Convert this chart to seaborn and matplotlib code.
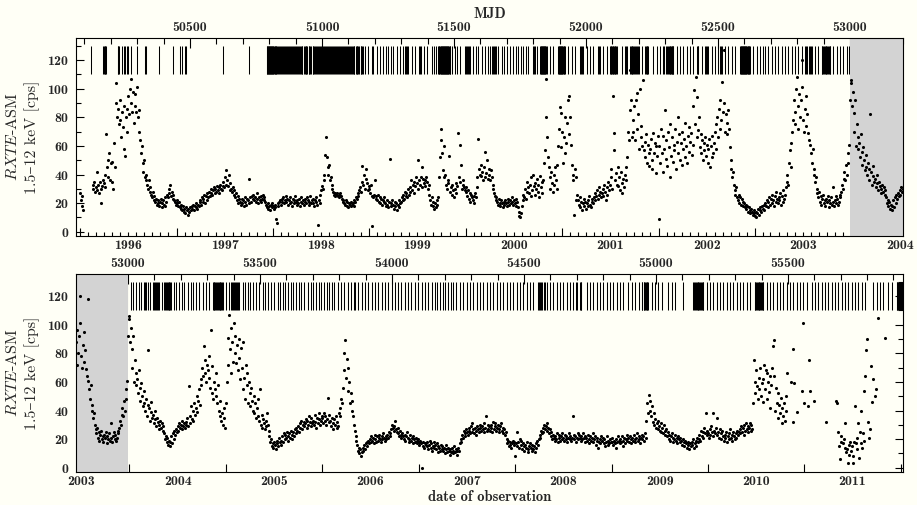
import numpy as np
import pandas as pd
import matplotlib
matplotlib.use("Agg")
import matplotlib.pyplot as plt
from matplotlib.ticker import FixedLocator, NullFormatter, NullLocator, FuncFormatter, MultipleLocator
import seaborn as sns

n = None
# RXTE-ASM daily rates (cps), sampled every 3 days from 1 Jan of each year
rate_1996 = [27,22,18,25,15,n,n,n,n,n, n,n,n,n,n,n,33,30,35,28, 31,42,29,33,27,35,20,30,32,36,
 34,40,31,68,45,50,38,55,36,48, 35,49,30,62,45,90,104,80,86,75, 92,78,66,84,73,58,88,53,80,70,
 86,95,82,100,107,90,84,98,76,88, 96,84,101,80,70,85,64,55,60,48, 42,50,38,36,40,33,30,36,28,31,
 26,24,28,22,25,21,23,19,22,20, 18,21,23,17,20,22,19,24,18,21, 26,24,30,27,33,25,28,23,26,22, 21,19]
rate_1997 = [22,20,18,21,17,19,16,15,18,14, 16,13,17,15,12,16,14,17,15,18, 16,19,15,18,17,20,16,19,18,21,
 22,19,24,21,23,26,20,25,22,27, 24,28,25,27,30,26,29,31,27,30, 28,32,29,31,27,33,30,29,32,35,
 31,38,33,43,36,32,40,29,34,30, 28,31,26,29,24,27,22,25,20,23, 21,19,23,20,22,18,24,21,19,23,
 22,20,37,24,21,25,23,26,22,24, 21,23,27,20,24,22,25,21,23,26, 22,24,21,19,17,20,16,18,15,19, 17,20]
rate_1998 = [18,16,19,17,9,6,20,18,21,22, 19,23,21,24,20,22,25,21,23,19, 22,20,24,21,18,23,20,22,25,21,
 19,22,20,23,18,21,24,20,22,19, 21,23,20,24,22,19,21,25,20,22, 23,20,18,22,21,24,19,5,22,20,
 26,29,32,30,36,40,54,66,52,45, 40,47,36,38,33,30,28,26,27,25, 26,27,25,26,24,27,25,23,22,21,
 20,19,22,18,21,17,20,19,18,21, 19,20,18,22,21,24,23,27,25,29, 31,28,35,46,33,40,30,37,44,34, 29,32]
rate_1999 = [30,27,33,25,4,24,26,36,23,25, 22,26,21,24,20,23,19,22,24,21, 20,18,22,19,17,21,51,20,18,22,
 19,16,21,18,20,15,19,22,17,20, 21,24,22,26,23,28,25,27,24,30, 26,31,28,36,29,33,27,35,32,38,
 34,50,30,36,33,38,45,31,37,34, 36,32,38,35,30,33,26,22,19,24, 18,21,16,20,17,22,19,24,38,52,
 64,72,55,43,60,38,40,33,30,36, 34,53,28,31,26,33,29,24,30,27, 34,32,69,38,61,35,47,30,36,33, 31,29]
rate_2000 = [28,31,25,29,23,27,21,26,24,22, 25,20,27,24,31,38,65,44,40,47, 39,42,36,45,38,56,41,50,37,44,
 40,36,43,38,33,30,27,25,22,24, 21,19,23,20,18,22,20,17,21,19, 22,20,18,23,21,19,22,20,24,21,
 19,22,20,23,18,21,17,14,11,10, 13,18,22,26,24,30,23,28,35,31, 27,33,25,38,29,40,32,26,34,30,
 37,28,33,24,39,31,35,27,36,48, 57,107,80,66,52,45,38,30,42,34, 28,40,33,45,36,30,47,60,72,87, 59,83]
rate_2001 = [70,48,66,55,80,62,76,92,95,68, 80,61,47,40,36,12,44,22,38,26, 22,19,24,17,21,15,20,23,18,21,
 16,20,22,18,25,19,17,21,23,20, 24,22,27,25,29,23,31,26,28,24, 27,30,25,33,28,22,31,26,35,29,
 33,38,44,30,95,57,69,36,41,33, 45,32,38,29,42,34,27,37,31,40, 36,45,52,70,64,85,113,92,66,78,
 70,88,64,92,97,72,82,58,100,74, 66,60,106,57,63,52,68,48,61,55, 46,58,65,50,44,69,55,62,41,60, 53,67]
rate_2002 = [60,9,48,72,55,67,42,58,85,51, 64,46,70,59,38,75,53,66,49,61, 57,72,44,63,80,55,68,50,62,47,
 70,58,65,52,76,60,48,67,73,56, 63,69,54,88,61,99,75,108,66,94, 71,80,59,68,55,64,50,62,57,66,
 53,61,48,58,65,45,60,52,67,55, 62,70,58,75,80,66,86,72,92,78, 105,84,127,90,70,82,76,68,85,72,
 59,50,44,38,42,33,29,26,31,24, 22,26,20,24,19,23,21,18,20,17, 19,16,18,14,17,15,13,16,14,12, 15,13]
rate_2003 = [11,14,10,13,16,12,15,17,14,18, 16,19,15,20,18,22,17,21,24,19, 23,20,26,22,18,25,21,28,23,20,
 24,22,27,19,25,21,29,23,26,31, 35,40,33,48,57,45,62,70,78,92, 84,75,100,108,88,72,96,80,92,101,
 120,78,70,86,95,74,82,69,64,118, 61,55,48,58,44,40,35,38,30,27, 24,28,21,25,19,23,26,20,22,18,
 23,21,25,17,22,20,24,19,31,21, 18,22,25,20,23,19,21,26,24,28, 33,30,37,42,36,47,40,55,48,61, 92,106]
rate_2004 = [104,88,98,83,70,92,60,75,66,58, 62,52,68,56,47,59,50,43,54,45, 40,48,36,44,82,42,33,39,46,35,
 37,31,40,34,29,35,32,27,30,33, 28,31,26,29,24,20,22,18,21,16, 19,15,18,22,17,24,20,26,23,27,
 25,29,26,31,28,30,27,33,29,31, 28,32,30,35,29,57,36,31,43,34, 40,33,45,37,42,50,39,47,55,44,
 62,58,70,64,85,66,75,60,72,68, 78,63,56,96,52,71,48,60,55,66, 50,45,58,40,36,47,33,38,30,42, 35,28]
rate_2005 = [45,60,91,72,107,83,98,66,88,74, 101,80,92,73,86,68,90,77,62,84, 70,55,88,63,48,72,58,66,45,60,
 52,43,56,47,40,50,38,45,35,42, 36,48,33,55,30,37,28,34,31,27, 33,29,38,30,26,22,18,20,15,17,
 14,18,16,13,19,17,15,21,18,16, 19,22,18,24,20,23,21,25,19,22, 24,21,26,23,20,25,22,27,24,28,
 26,29,25,31,28,33,27,30,32,29, 31,34,28,33,30,36,32,29,35,31, 33,30,37,32,28,35,31,38,34,30, 33,36]
rate_2006 = [35,31,38,33,36,30,34,49,32,37, 33,29,35,31,27,34,30,36,28,32, 29,38,42,36,48,45,56,68,80,89,
 63,76,54,70,60,45,52,40,47,36, 30,26,22,19,16,12,14,10,13,8, 11,14,12,16,13,17,15,18,19,17,
 20,18,22,19,21,17,23,20,18,22, 19,21,23,20,18,22,20,24,21,19, 22,20,23,21,25,22,24,27,30,28,
 26,29,33,27,25,28,24,22,26,23, 21,24,22,20,23,19,22,25,21,18, 20,23,19,21,17,22,20,18,21,19, 17,20]
rate_2007 = [18,16,19,17,0,15,18,14,17,16, 15,18,13,16,19,14,17,12,15,18, 14,16,13,17,11,15,14,12,16,13,
 15,12,14,10,13,16,11,14,12,9, 13,11,14,10,12,15,11,13,9,12, 14,12,17,20,18,23,21,26,24,22,
 27,25,23,28,26,24,29,31,25,27, 24,28,26,23,29,27,25,30,28,26, 29,27,31,25,28,36,26,30,27,29,
 26,30,28,25,32,27,29,31,26,28, 30,27,25,29,31,26,28,24,27,23, 25,20,17,19,15,18,16,14,17,19, 16,18]
rate_2008 = [8,17,25,15,18,14,20,16,19,13, 17,15,12,16,14,18,13,11,15,17, 14,12,16,13,15,11,14,17,19,16,
 20,23,21,26,24,28,25,30,27,29, 31,26,28,24,27,22,25,20,23,21, 19,22,20,24,18,21,23,19,22,20,
 24,21,19,23,20,22,18,21,24,20, 22,19,21,36,23,20,22,18,21,24, 20,23,21,19,22,20,24,21,18,22,
 21,19,23,20,17,22,19,21,24,18, 20,22,16,19,21,14,18,20,17,22, 19,21,17,20,15,18,22,16,19,17, 20,18]
rate_2009 = [18,21,16,19,17,20,14,18,22,19, 17,20,18,22,15,19,21,17,20,23, 19,21,18,22,20,17,21,19,23,20,
 18,21,24,19,22,20,17,21,23,20, 22,19,24,21,33,45,38,51,40,47, 36,43,32,38,30,34,28,31,27,33,
 29,26,31,25,28,24,30,26,23,27, 22,25,20,23,19,22,24,18,21,20, 23,19,21,17,22,20,18,21,19,16,
 20,18,15,19,17,14,18,16,13,17, 15,18,16,20,14,17,19,15,21,18, 20,23,19,26,22,25,21,28,24,38, 23,26]
rate_2010 = [24,21,27,23,29,25,38,22,26,24, 28,23,35,25,21,27,24,20,26,22, 19,23,21,25,18,22,24,20,27,21,
 23,19,25,22,20,24,21,26,23,25, 27,24,29,25,28,23,30,26,31,27, 29,25,28,31,26,30,27,45,75,60,
 52,68,57,48,63,55,70,50,59,46, 62,72,55,68,48,66,60,53,64,42, 58,70,85,64,89,40,56,45,35,52,
 44,38,49,31,42,36,45,33,50,40, 66,n,n,n,n,60,n,83,32,59, n,n,39,n,n,n,n,n,n,54, 101,45]
rate_2011 = [n,n,n,n,n,43,75,54,n,n, n,n,47,n,n,n,n,n,n,n, n,n,n,n,n,n,n,32,n,n,
 n,n,n,n,n,n,n,n,n,n, 47,45,n,25,15,6,18,22,n,17, 20,14,31,11,13,3,16,9,18,12,
 15,8,3,18,43,17,13,21,31,7, 25,40,17,14,24,19,54,64,82,90, 32,n,21,27,71,46,n,62,n,50,
 n,55,n,105,n,n,n,n,n,n, n,n,91]

# observation markers (MJD), drawn as bars between 110 and 130 cps
obs_mjd_a = [50125,50170,50173,50176,50179,50182,50226,50229,50232,50241,50249,50252,50260,50264,50276,
 50299,50329,50333,50381,50434,50463,50470,50481,50485,50624,50725,
 50790,50792,50794,50796,50798,50800,50802,50804,50806,50808,50810,50812,50814,50816,50818,50820,50822,50824,50826,
 50830,50834,50837,50841,50845,50848,50852,50856,50860,50863,50867,50871,50874,50878,50882,50886,50889,50893,
 50897,50900,50904,50908,50912,50915,50919,50923,50926,50930,50934,50938,50941,50945,50949,50952,50956,50960,
 50964,50967,50971,50975,50978,50982,50986,50990,50993,50997,51001,51004,51008,51012,51016,51019,51023,51027,
 51030,51034,51038,51042,51045,51049,51053,51056,51060,51064,51068,51071,51075,51079,51082,51086,51090,51094,
 51097,51101,51105,51108,51112,51116,51120,51123,51127,51131,51134,51138,51142,51146,51149,51153,51157,
 51163,51175,51189,51193,51207,51220,51232,51242,51251,51260,51270,51283,51295,51308,51314,51318,51322,51327,
 51340,51352,51368,51371,51374,51386,51399,51415,51424,51432,
 51441,51443,51445,51447,51449,51451,51453,51455,51457,51459,51461,51463,51465,51467,51469,51471,51473,51475,
 51477,51479,51481,51483,51485,51491,51504,51510,51523,51542,51546,51550,51554,51558,51561,51573,51583,51592,
 51605,51617,51627,51636,51645,51648,51652,51655,51658,51668,51681,51691,51699,51712,51725,51735,51744,51752,
 51763,51773,51782,51800,51804,51808,51813,51826,51828,51830,51832,51834,51836,51838,51840,51842,51844,51846,
 51848,51851,51864,51876,51895,51897,51899,51901,51903,51905,51907,51909,51911,51913,51915,51917,51920,51933,
 51946,51958,51977,51981,51985,51990,52003,52015,52028,52047,52050,52053,52066,52078,
 52091,52094,52096,52099,52101,52104,52106,52109,52111,52114,52116,52135,52148,52151,52154,
 52167,52170,52173,52176,52179,52183,52186,52189,52192,52196,52199,52211,52224,52227,52230,52233,52236,52255,
 52268,52281,52293,52297,52302,52306,52312,52314,52317,52319,52322,52324,52327,52329,52331,52344,52356,52369,
 52382,52394,52407,52419,52423,52426,52438,52451,52455,52459,52464,52476,52489,52502,52506,52510,52514,52527,
 52539,52552,52565,52584,52586,52588,52590,52592,52594,52596,52598,52600,52602,52604,52606,52608,52610,52612,
 52614,52616,52618,52621,52634,52647,52659,52669,52678,52691,52704,52716,52729,52741,52754,52767,52779,52792,
 52805,52817,52830,52834,52838,52843,52847,52851,52855,52868,52880,52893,52896,52899,52902,52905,52908,52911,
 52914,52917,52920,52923,52925,52937,52950,52962,52975,52988,52997]
obs_mjd_b = [53011,53020,53030,53040,53049,53062,53065,53068,53074,53083,53096,53099,53102,53105,53109,53112,
 53119,53129,53138,53141,53144,53147,53151,53154,53157,53160,53163,53175,53182,53194,53205,53213,53226,53239,
 53247,53258,53270,53283,53295,53308,53321,53324,53327,53330,53334,53337,53340,53343,53347,53350,53353,53356,
 53359,53371,53381,53390,53393,53397,53401,53405,53409,53413,53418,53422,53434,53444,53453,53462,53472,53485,
 53497,53510,53519,53529,53542,53554,53567,53576,53586,53596,53605,53617,53626,53636,53646,53655,53668,53681,
 53693,53702,53712,53722,53731,53744,53753,53763,53773,53782,53794,53807,53820,53832,53845,53857,
 53860,53873,53885,53898,53910,53923,53936,53948,53961,53973,53986,53999,54011,54024,54036,54049,54062,54074,
 54087,54100,54112,54125,54137,54150,54163,54172,54182,54192,54201,54214,54222,54232,54243,54258,54270,54283,
 54296,54308,54321,54333,54346,54359,54371,54384,54397,54409,54422,54434,54447,54460,54472,54485,54497,54510,
 54523,54535,54554,54558,54562,54566,54570,54575,54580,54586,54599,54611,54624,54636,54649,54662,54674,54687,
 54697,54700,54712,54715,54718,54737,54750,54762,54775,54788,54800,54813,54826,54838,54851,54863,54876,
 54896,54908,54921,54934,54946,54949,54953,54956,54959,54962,54965,54968,54971,54984,54997,55009,55022,55047,
 55060,55072,55104,55142,55145,55148,55152,55155,55158,55161,55164,55167,55170,55174,55177,55180,55192,55205,
 55218,55230,55243,55255,55268,55281,55293,55306,55319,55331,55344,55357,55375,55377,55380,55383,55386,55389,
 55392,55395,55398,55401,55404,55407,55420,55432,55445,55458,55470,55483,55495,55508,55521,55533,55546,55559,
 55571,55590,55603,55615,55628,55641,55653,55666,55678,55691,55704,55716,55729,55742,55754,55767,55780,55792,
 55824,55836,55849,55862,55880,55893,55912,55915,55918,55921,55924,55928,55931]

rate_by_year = [(1996, rate_1996), (1997, rate_1997), (1998, rate_1998), (1999, rate_1999),
                (2000, rate_2000), (2001, rate_2001), (2002, rate_2002), (2003, rate_2003),
                (2004, rate_2004), (2005, rate_2005), (2006, rate_2006), (2007, rate_2007),
                (2008, rate_2008), (2009, rate_2009), (2010, rate_2010), (2011, rate_2011)]
sample_step_days = 3

epoch = pd.Timestamp("1858-11-17")
def mjd_of(ts):
    return (ts - epoch).days

frames = []
for yr, vals in rate_by_year:
    start = mjd_of(pd.Timestamp(f"{yr}-01-01"))
    v = np.array(vals, dtype=float)
    frames.append(pd.DataFrame({"mjd": start + sample_step_days * np.arange(len(v)), "rate": v}))
df = pd.concat(frames, ignore_index=True).dropna()

years = list(range(1994, 2013))
year_start = [mjd_of(pd.Timestamp(f"{y}-01-01")) for y in years]
mid_year = [(a + b) / 2 for a, b in zip(year_start[:-1], year_start[1:])]
year_lbl = [str(y) for y in years[:-1]]
month_start = [mjd_of(pd.Timestamp(year=y, month=m, day=1)) for y in years for m in range(1, 13)]
mjd_major = list(range(50000, 56001, 500))
mjd_minor = list(range(50000, 56001, 100))

# ---------------------------------------------------------------------------
sns.set_theme(style="ticks")
bg = "#fffff6"
plt.rcParams["font.family"] = ["cmr10", "DejaVu Serif"]
plt.rcParams["mathtext.fontset"] = "cm"
plt.rcParams["axes.formatter.use_mathtext"] = True
plt.rcParams["axes.unicode_minus"] = False

TICK_FONT = ["cmb10", "DejaVu Serif"]
TS = 10

fig = plt.figure(figsize=(9.17, 5.05), dpi=100)
fig.patch.set_facecolor(bg)
W, H = 917, 505
ax1 = fig.add_axes([76 / W, 1 - 236 / H, 827 / W, 198 / H])
ax2 = fig.add_axes([76 / W, 1 - 472 / H, 827 / W, 198 / H])

panels = [(ax1, (50068, 53201), (53000, 53201), True),
          (ax2, (52803, 55936), (52803, 53000), False)]

def inside(vals, lim):
    return [v for v in vals if lim[0] <= v <= lim[1]]

for ax, xl, shade, is_top in panels:
    ax.set_facecolor(bg)
    ax.vlines(obs_mjd_a + obs_mjd_b, 110, 130, colors="black", linewidth=0.75, zorder=1)
    ax.axvspan(shade[0], shade[1], color="#d3d3d3", lw=0, zorder=2)
    sns.scatterplot(data=df, x="mjd", y="rate", ax=ax, color="black", s=5,
                    linewidth=0, marker="o", zorder=3, legend=False)
    ax.set_xlim(*xl)
    ax.set_ylim(-3, 135.5)
    ax.set_xlabel("")
    ax.set_ylabel("$RXTE$-ASM\n1.5–12 keV [cps]", fontsize=11.5, labelpad=5, linespacing=1.35)
    for s in ax.spines.values():
        s.set_visible(True)
        s.set_linewidth(0.8)
        s.set_color("black")

    # y axis
    ax.yaxis.set_major_locator(MultipleLocator(20))
    ax.yaxis.set_minor_locator(MultipleLocator(10))
    ax.set_yticks([0, 20, 40, 60, 80, 100, 120])
    ax.tick_params(axis="y", which="both", direction="in", left=True, right=True,
                   color="black", width=0.8, labelsize=TS, labelfontfamily=TICK_FONT[0], pad=5)
    ax.tick_params(axis="y", which="major", length=6)
    ax.tick_params(axis="y", which="minor", length=3.5)

    # bottom: year boundaries (ticks) and months (top panel only)
    ax.xaxis.set_major_locator(FixedLocator(inside(year_start, xl)))
    ax.xaxis.set_major_formatter(NullFormatter())
    if is_top:
        ax.xaxis.set_minor_locator(FixedLocator(inside(month_start, xl)))
    else:
        ax.xaxis.set_minor_locator(NullLocator())
    ax.tick_params(axis="x", which="both", direction="in", bottom=True, top=False,
                   color="black", width=0.8)
    ax.tick_params(axis="x", which="major", length=6)
    ax.tick_params(axis="x", which="minor", length=3)

    # year labels centred in each year
    keep = [i for i, m in enumerate(mid_year) if xl[0] <= m <= xl[1]]
    yl = ax.secondary_xaxis("bottom")
    yl.set_xticks([mid_year[i] for i in keep], labels=[year_lbl[i] for i in keep])
    yl.tick_params(length=0, pad=3, labelsize=TS, labelfontfamily=TICK_FONT[0])
    yl.spines["bottom"].set_visible(False)
    if not is_top:
        yl.set_xlabel("date of observation", fontsize=10.5, family=TICK_FONT, labelpad=1)

    # MJD top axis
    tp = ax.secondary_xaxis("top")
    tp.xaxis.set_major_locator(FixedLocator(inside(mjd_major, xl)))
    tp.xaxis.set_minor_locator(FixedLocator(inside(mjd_minor, xl)))
    tp.xaxis.set_major_formatter(FuncFormatter(lambda v, p: f"{v:.0f}"))
    tp.tick_params(which="both", direction="in", color="black", width=0.8,
                   labelsize=TS, labelfontfamily=TICK_FONT[0], pad=3)
    tp.tick_params(which="major", length=7)
    tp.tick_params(which="minor", length=4)
    tp.spines["top"].set_visible(False)
    if is_top:
        tp.set_xlabel("MJD", fontsize=10.5, family=TICK_FONT, labelpad=3)

fig.savefig("out.png", dpi=100, facecolor=bg)
